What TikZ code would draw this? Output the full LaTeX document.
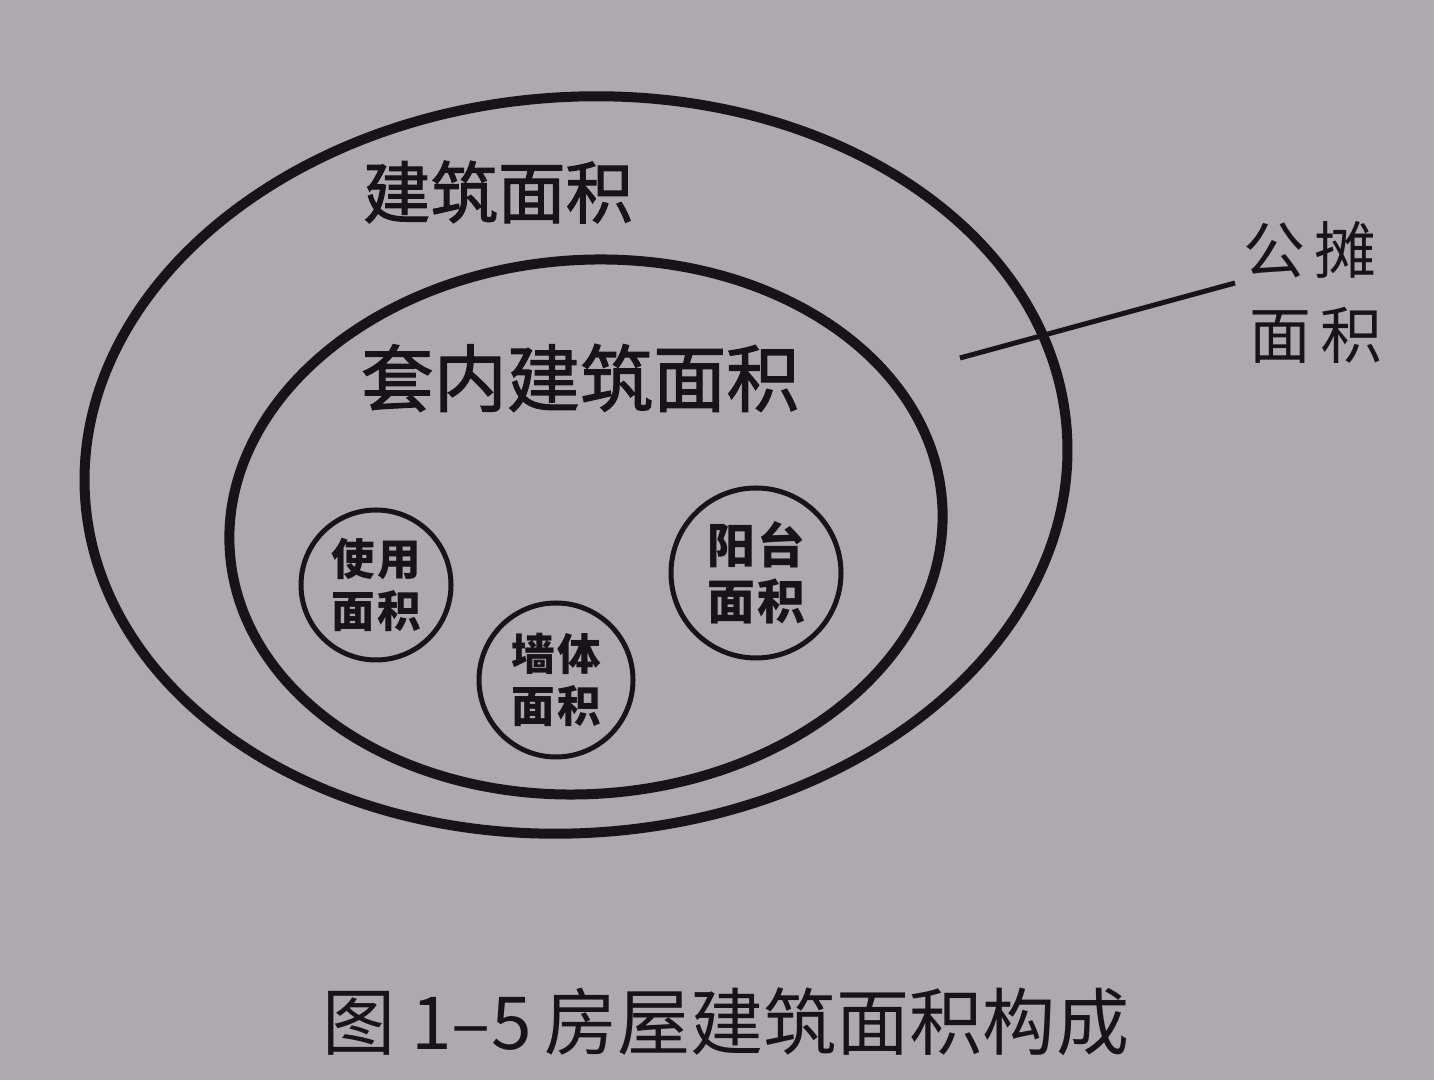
\documentclass[tikz,border=0pt]{standalone}
\usepackage{fontspec}
\newfontfamily\cjk{Noto Sans CJK SC}
\newfontfamily\cjkm{Noto Sans CJK SC}[FakeBold=1.6]
\definecolor{paper}{RGB}{172,170,174}
\definecolor{ink}{RGB}{22,20,22}
\begin{document}
\begin{tikzpicture}[x=0.05cm,y=0.05cm,
  ring/.style={draw=ink,line width=10*0.05cm},
  small/.style={draw=ink,line width=5*0.05cm,circle,inner sep=0pt},
  biglabel/.style={text=ink,font=\cjkm\fontsize{96}{100}\selectfont},
  smalllabel/.style={text=ink,align=center,font=\cjk\bfseries\fontsize{62}{70}\selectfont},
  leader/.style={draw=ink,line width=5*0.05cm}]
\fill[paper] (0,0) rectangle (1434,1080);
\useasboundingbox (0,0) rectangle (1434,1080);
% ellipses
\coordinate (oc) at (576,615);
\coordinate (ic) at (586,553);
\draw[ring] (oc) ellipse [x radius=492, y radius=368, rotate=4];
\draw[ring] (ic) ellipse [x radius=357, y radius=267, rotate=4];
% labels
\node[biglabel] (jz) at (498,888) {建筑面积};
\node[biglabel,font=\cjkm\fontsize{104}{110}\selectfont] (tn) at (580,702) {套内建筑面积};
% small circles
\node[small,minimum size=150*0.05cm] (sy) at (376,495) {};
\node[smalllabel] (syt) at (sy) {使\hspace{3pt}用\\[3pt]面\hspace{3pt}积};
\node[small,minimum size=154*0.05cm] (qt) at (556,400) {};
\node[smalllabel] (qtt) at (qt) {墙\hspace{3pt}体\\[3pt]面\hspace{3pt}积};
\node[small,minimum size=170*0.05cm] (yt) at (756,507) {};
\node[smalllabel,font=\cjk\bfseries\fontsize{68}{76}\selectfont] (ytt) at (yt) {阳\hspace{3pt}台\\[3pt]面\hspace{3pt}积};
% public area label
\node[biglabel,font=\cjk\fontsize{88}{90}\selectfont] (gt) at (1310,830) {公\hspace{14pt}摊};
\node[biglabel,font=\cjk\fontsize{88}{90}\selectfont] (gm) at (1316,745) {面\hspace{14pt}积};
\coordinate (la) at (960,722);
\coordinate (lb) at (1235,797);
\draw[leader] (la) -- (lb);
% caption
\node[text=ink,font=\cjk\fontsize{104}{108}\selectfont] (cap) at (726,58) {图\hspace{22pt}1–5\hspace{18pt}房屋建筑面积构成};
\end{tikzpicture}
\end{document}
